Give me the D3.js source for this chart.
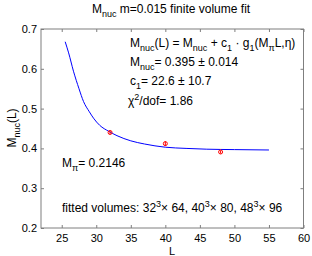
<!DOCTYPE html>
<html>
<head>
<meta charset="utf-8">
<script src="https://cdn.jsdelivr.net/npm/d3@7"></script>
<style>
body { margin: 0; background: #fff; }
svg { display: block; font-family: "Liberation Sans", Arial, sans-serif; }
.axis path { display: none; }
.axis line { stroke: #7f7f7f; }
.axis text { font-size: 11px; fill: #000; }
</style>
</head>
<body>
<script>
// chart values
var xTicks = [25, 30, 35, 40, 45, 50, 55, 60];
var yTicks = [0.2, 0.3, 0.4, 0.5, 0.6, 0.7];
var volumeL = [32, 40, 48];
var massValue = [0.440, 0.412, 0.391];
var massError = [0.004, 0.006, 0.004];
var fitL = [25.5, 26, 26.7, 27.5, 28.15, 29, 29.6, 30.5, 31.8, 33, 35, 37, 40, 43, 46, 50, 55];
var fitM = [0.668, 0.640, 0.594, 0.550, 0.518, 0.492, 0.476, 0.458, 0.443, 0.432, 0.419, 0.411, 0.403, 0.400, 0.398, 0.397, 0.396];

var width = 312, height = 256;
var plotLeft = 41, plotRight = 303.5, plotTop = 29, plotBottom = 228;

var svg = d3.select("body").append("svg")
	.attr("width", width)
	.attr("height", height);

var x = d3.scaleLinear().domain([22, 60]).range([plotLeft, plotRight]);
var y = d3.scaleLinear().domain([0.2, 0.7]).range([plotBottom, plotTop]);

// axes, ticks point inwards like matlab
svg.append("g").attr("class", "axis")
	.attr("transform", "translate(0," + plotBottom + ")")
	.call(d3.axisBottom(x).tickValues(xTicks).tickSize(-3).tickPadding(6.5).tickFormat(d3.format("d")));
svg.append("g").attr("class", "axis")
	.attr("transform", "translate(0," + plotTop + ")")
	.call(d3.axisTop(x).tickValues(xTicks).tickSize(-3).tickFormat(""));
svg.append("g").attr("class", "axis")
	.attr("transform", "translate(" + plotLeft + ",0)")
	.call(d3.axisLeft(y).tickValues(yTicks).tickSize(-3).tickPadding(4).tickFormat(d3.format(".1f")));
svg.append("g").attr("class", "axis")
	.attr("transform", "translate(" + plotRight + ",0)")
	.call(d3.axisRight(y).tickValues(yTicks).tickSize(-3).tickFormat(""));

svg.append("rect")
	.attr("x", plotLeft).attr("y", plotTop)
	.attr("width", plotRight - plotLeft).attr("height", plotBottom - plotTop)
	.attr("fill", "none").attr("stroke", "#7f7f7f");

// fit curve
var line = d3.line()
	.x(function(d, i){ return x(fitL[i]); })
	.y(function(d){ return y(d); })
	.curve(d3.curveMonotoneX);
svg.append("path")
	.datum(fitM)
	.attr("d", line)
	.attr("fill", "none")
	.attr("stroke", "#0000ff")
	.attr("stroke-width", 1);

// data with error bars
var pts = svg.selectAll(".pt").data(massValue).enter().append("g").attr("class", "pt");
pts.append("line")
	.attr("x1", function(d, i){ return x(volumeL[i]); })
	.attr("x2", function(d, i){ return x(volumeL[i]); })
	.attr("y1", function(d, i){ return y(d - massError[i]); })
	.attr("y2", function(d, i){ return y(d + massError[i]); })
	.attr("stroke", "#ff0000");
pts.append("circle")
	.attr("cx", function(d, i){ return x(volumeL[i]); })
	.attr("cy", function(d){ return y(d); })
	.attr("r", 2)
	.attr("fill", "none")
	.attr("stroke", "#ff0000");

// text with sub/superscripts: segments are [string, kind]
function richText(g, parts, size){
	var t = g.append("text").attr("font-size", size).attr("fill", "#000");
	var shift = 0;
	parts.forEach(function(p){
		var target = p[1] == "sub" ? 4 : (p[1] == "sup" ? -5 : 0);
		t.append("tspan")
			.attr("dy", target - shift)
			.attr("font-size", p[1] ? size * 0.75 : size)
			.text(p[0]);
		shift = target;
	});
	return t;
}

function label(xp, yp, parts, size, anchor, rotate){
	var g = svg.append("g").attr("transform", "translate(" + xp + "," + yp + ")" + (rotate ? " rotate(-90)" : ""));
	richText(g, parts, size).attr("text-anchor", anchor || "start");
}

label(171, 13, [["M"], ["nuc", "sub"], ["  m=0.015 finite volume fit"]], 12, "middle");
label(16, 128, [["M"], ["nuc", "sub"], ["(L)"]], 12, "middle", true);
label(172, 254.5, [["L"]], 11, "middle");

label(130, 47, [["M"], ["nuc", "sub"], ["(L) = M"], ["nuc", "sub"], [" + c"], ["1", "sub"], [" · g"], ["1", "sub"], ["(M"], ["π", "sub"], ["L,η)"]], 12);
label(130, 66, [["M"], ["nuc", "sub"], ["=  0.395 ± 0.014"]], 12);
label(130, 84.5, [["c"], ["1", "sub"], ["=  22.6 ± 10.7"]], 12);
label(128, 105, [["χ"], ["2", "sup"], ["/dof= 1.86"]], 12);
label(62, 167, [["M"], ["π", "sub"], ["= 0.2146"]], 12);
label(62, 212, [["fitted volumes:  32"], ["3", "sup"], ["× 64, 40"], ["3", "sup"], ["× 80, 48"], ["3", "sup"], ["× 96"]], 12);
</script>
</body>
</html>
